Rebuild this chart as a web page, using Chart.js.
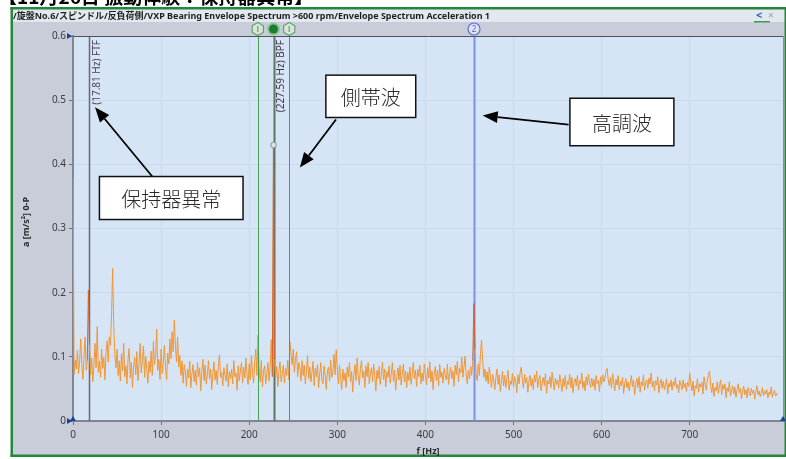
<!DOCTYPE html>
<html>
<head>
<meta charset="utf-8">
<script src="https://cdn.jsdelivr.net/npm/chart.js@4.4.1/dist/chart.umd.min.js"></script>
<style>
  html, body { margin: 0; padding: 0; background: #ffffff; }
  canvas { display: block; }
</style>
</head>
<body>
<canvas id="spectrum" width="786" height="459"></canvas>
<script>
// ---- Envelope spectrum data (acceleration, m/s² 0-P) ----
const BIN_WIDTH_HZ = 1.25;   // FFT line spacing, bin 0 = 0 Hz

// one row = 10 Hz (8 bins)
const amplitude = [
  0.380, 0.072, 0.095, 0.081, 0.110, 0.074, 0.092, 0.128,
  0.088, 0.065, 0.102, 0.131, 0.079, 0.094, 0.204, 0.118,
  0.072, 0.098, 0.061, 0.087, 0.121, 0.083, 0.147, 0.076,
  0.093, 0.068, 0.112, 0.082, 0.099, 0.064, 0.107, 0.125,
  0.092, 0.131, 0.118, 0.165, 0.238, 0.149, 0.104, 0.083,
  0.112, 0.071, 0.094, 0.062, 0.105, 0.078, 0.121, 0.069,
  0.086, 0.058, 0.097, 0.113, 0.067, 0.091, 0.052, 0.084,
  0.099, 0.072, 0.108, 0.063, 0.088, 0.121, 0.075, 0.094,
  0.117, 0.068, 0.101, 0.082, 0.059, 0.093, 0.076, 0.109,
  0.071, 0.124, 0.088, 0.102, 0.143, 0.079, 0.096, 0.065,
  0.112, 0.074, 0.092, 0.118, 0.083, 0.064, 0.106, 0.089,
  0.128, 0.097, 0.139, 0.108, 0.157, 0.118, 0.092, 0.131,
  0.084, 0.102, 0.071, 0.094, 0.059, 0.088, 0.076, 0.054,
  0.081, 0.067, 0.093, 0.052, 0.074, 0.088, 0.061, 0.079,
  0.056, 0.091, 0.069, 0.083, 0.047, 0.077, 0.096, 0.063,
  0.087, 0.058, 0.072, 0.094, 0.066, 0.081, 0.049, 0.075,
  0.092, 0.064, 0.079, 0.057, 0.085, 0.103, 0.068, 0.076,
  0.055, 0.083, 0.071, 0.062, 0.089, 0.053, 0.077, 0.066,
  0.081, 0.058, 0.094, 0.069, 0.075, 0.048, 0.086, 0.063,
  0.078, 0.091, 0.059, 0.084, 0.067, 0.098, 0.072, 0.057,
  0.089, 0.064, 0.102, 0.076, 0.059, 0.093, 0.112, 0.071,
  0.134, 0.082, 0.061, 0.094, 0.053, 0.078, 0.086, 0.058,
  0.074, 0.091, 0.062, 0.083, 0.127, 0.069, 0.430, 0.096,
  0.068, 0.085, 0.054, 0.079, 0.092, 0.061, 0.073, 0.087,
  0.059, 0.082, 0.071, 0.095, 0.064, 0.123, 0.104, 0.088,
  0.112, 0.076, 0.097, 0.108, 0.069, 0.091, 0.083, 0.062,
  0.094, 0.071, 0.087, 0.058, 0.079, 0.102, 0.066, 0.084,
  0.061, 0.076, 0.093, 0.055, 0.082, 0.069, 0.088, 0.052,
  0.073, 0.091, 0.064, 0.058, 0.086, 0.071, 0.049, 0.078,
  0.084, 0.062, 0.095, 0.068, 0.076, 0.104, 0.072, 0.111,
  0.079, 0.058, 0.087, 0.066, 0.049, 0.081, 0.063, 0.075,
  0.052, 0.084, 0.069, 0.091, 0.061, 0.077, 0.045, 0.072,
  0.088, 0.063, 0.098, 0.071, 0.056, 0.082, 0.094, 0.067,
  0.078, 0.052, 0.086, 0.069, 0.091, 0.058, 0.074, 0.083,
  0.061, 0.089, 0.071, 0.047, 0.079, 0.066, 0.085, 0.057,
  0.073, 0.092, 0.064, 0.081, 0.053, 0.077, 0.068, 0.086,
  0.059, 0.074, 0.091, 0.062, 0.079, 0.048, 0.069, 0.083,
  0.064, 0.087, 0.056, 0.073, 0.089, 0.061, 0.078, 0.052,
  0.076, 0.063, 0.084, 0.057, 0.072, 0.091, 0.066, 0.079,
  0.054, 0.081, 0.069, 0.087, 0.058, 0.075, 0.062, 0.089,
  0.071, 0.056, 0.083, 0.067, 0.092, 0.061, 0.078, 0.049,
  0.074, 0.085, 0.063, 0.079, 0.055, 0.088, 0.068, 0.076,
  0.059, 0.082, 0.071, 0.064, 0.089, 0.057, 0.073, 0.084,
  0.066, 0.078, 0.054, 0.087, 0.072, 0.093, 0.061, 0.082,
  0.075, 0.100, 0.068, 0.084, 0.101, 0.072, 0.058, 0.079,
  0.066, 0.085, 0.071, 0.094, 0.183, 0.112, 0.074, 0.063,
  0.089, 0.071, 0.105, 0.126, 0.093, 0.068, 0.081, 0.062,
  0.077, 0.058, 0.084, 0.069, 0.052, 0.073, 0.064, 0.049,
  0.068, 0.081, 0.057, 0.072, 0.046, 0.063, 0.078, 0.055,
  0.071, 0.052, 0.066, 0.079, 0.048, 0.062, 0.057, 0.074,
  0.053, 0.069, 0.061, 0.044, 0.072, 0.058, 0.076, 0.084,
  0.065, 0.051, 0.073, 0.059, 0.068, 0.045, 0.062, 0.071,
  0.054, 0.066, 0.049, 0.072, 0.061, 0.078, 0.052, 0.064,
  0.071, 0.047, 0.059, 0.068, 0.055, 0.074, 0.043, 0.063,
  0.058, 0.069, 0.052, 0.076, 0.061, 0.048, 0.067, 0.057,
  0.064, 0.051, 0.072, 0.059, 0.046, 0.066, 0.054, 0.071,
  0.049, 0.062, 0.057, 0.073, 0.052, 0.068, 0.044, 0.061,
  0.066, 0.055, 0.071, 0.048, 0.063, 0.058, 0.075, 0.051,
  0.062, 0.047, 0.069, 0.056, 0.073, 0.061, 0.052, 0.067,
  0.054, 0.065, 0.048, 0.071, 0.058, 0.063, 0.046, 0.069,
  0.057, 0.072, 0.061, 0.066, 0.078, 0.082, 0.064, 0.055,
  0.068, 0.051, 0.074, 0.059, 0.047, 0.065, 0.056, 0.071,
  0.049, 0.062, 0.055, 0.068, 0.043, 0.059, 0.066, 0.052,
  0.061, 0.047, 0.058, 0.071, 0.053, 0.064, 0.041, 0.057,
  0.066, 0.052, 0.069, 0.045, 0.061, 0.055, 0.072, 0.048,
  0.059, 0.064, 0.051, 0.067, 0.058, 0.075, 0.053, 0.062,
  0.047, 0.063, 0.056, 0.069, 0.044, 0.058, 0.065, 0.051,
  0.062, 0.049, 0.057, 0.066, 0.042, 0.059, 0.053, 0.064,
  0.048, 0.061, 0.055, 0.068, 0.051, 0.057, 0.044, 0.063,
  0.056, 0.049, 0.064, 0.052, 0.059, 0.046, 0.061, 0.054,
  0.075, 0.058, 0.047, 0.062, 0.039, 0.055, 0.051, 0.066,
  0.045, 0.058, 0.053, 0.061, 0.042, 0.069, 0.057, 0.048,
  0.064, 0.071, 0.078, 0.056, 0.044, 0.059, 0.038, 0.052,
  0.047, 0.061, 0.043, 0.055, 0.064, 0.041, 0.057, 0.049,
  0.058, 0.036, 0.052, 0.046, 0.061, 0.039, 0.048, 0.055,
  0.042, 0.053, 0.037, 0.049, 0.058, 0.044, 0.051, 0.035,
  0.047, 0.054, 0.041, 0.049, 0.036, 0.052, 0.045, 0.039,
  0.051, 0.043, 0.048, 0.034, 0.046, 0.055, 0.041, 0.047,
  0.038, 0.044, 0.052, 0.039, 0.047, 0.042, 0.049, 0.036,
  0.045, 0.041, 0.053, 0.037, 0.044, 0.048, 0.039, 0.043,
  0.041
];

const X_TICKS = [0, 100, 200, 300, 400, 500, 600, 700];
const Y_TICKS = [0, 0.1, 0.2, 0.3, 0.4, 0.5, 0.6];

// bearing defect frequencies
const FTF_HZ = 17.81;
const BPF_HZ = 227.59;
const SIDEBAND_HZ = [BPF_HZ - FTF_HZ, BPF_HZ + FTF_HZ];
const HARMONIC_HZ = 2 * BPF_HZ;

const markerLabels = ['(17.81 Hz) FTF', '(227.59 Hz) BPF'];
const calloutTexts = ['保持器異常', '側帯波', '高調波'];
const headerText = '/旋盤No.6/スピンドル/反負荷側/VXP Bearing Envelope Spectrum >600 rpm/Envelope Spectrum Acceleration 1';
const pageTitle = '【11月26日 振動体験：保持器異常】';

// ---- build the point list ----
const points = amplitude.map((a, i) => ({ x: i * BIN_WIDTH_HZ, y: a }));

const PEAK_HZ = [FTF_HZ, BPF_HZ, HARMONIC_HZ];
function nearPeak(f) {
  return PEAK_HZ.some(p => Math.abs(f - p) < 0.9);
}

const CJK = '"Noto Sans CJK JP", "Noto Sans", sans-serif';
const UI = '"Noto Sans", "Noto Sans CJK JP", sans-serif';

function arrow(ctx, x1, y1, x2, y2) {
  const ang = Math.atan2(y2 - y1, x2 - x1);
  const head = 15, half = 6;
  const bx = x2 - head * Math.cos(ang), by = y2 - head * Math.sin(ang);
  ctx.strokeStyle = '#000';
  ctx.lineWidth = 1.8;
  ctx.beginPath();
  ctx.moveTo(x1, y1);
  ctx.lineTo(bx, by);
  ctx.stroke();
  ctx.fillStyle = '#000';
  ctx.beginPath();
  ctx.moveTo(x2, y2);
  ctx.lineTo(bx + half * Math.sin(ang), by - half * Math.cos(ang));
  ctx.lineTo(bx - half * Math.sin(ang), by + half * Math.cos(ang));
  ctx.closePath();
  ctx.fill();
}

function hexagon(ctx, cx, cy, r) {
  ctx.beginPath();
  for (let k = 0; k < 6; k++) {
    const a = Math.PI / 6 + k * Math.PI / 3;
    const px = cx + r * Math.cos(a), py = cy + r * Math.sin(a);
    k ? ctx.lineTo(px, py) : ctx.moveTo(px, py);
  }
  ctx.closePath();
}

const framePlugin = {
  id: 'frame',
  beforeDraw(chart) {
    const { ctx, chartArea: ca } = chart;
    ctx.save();
    ctx.fillStyle = '#ffffff';
    ctx.fillRect(0, 0, chart.width, chart.height);
    // panel
    ctx.fillStyle = '#c9cdd9';
    ctx.fillRect(13, 9, 772, 446);
    // header strip
    ctx.fillStyle = '#e3e8f0';
    ctx.fillRect(13, 9, 772, 13);
    // green frame
    ctx.fillStyle = '#23883a';
    ctx.fillRect(10.5, 7, 775.5, 2.5);
    ctx.fillRect(10.5, 454.5, 775.5, 2.5);
    ctx.fillRect(10.5, 7, 2.5, 450);
    ctx.fillRect(784.5, 7, 1.5, 450);
    // plot background
    ctx.fillStyle = '#d6e5f5';
    ctx.fillRect(ca.left, ca.top, ca.right - ca.left, ca.bottom - ca.top);
    ctx.restore();
  },
  beforeDatasetsDraw(chart) {
    const { ctx, chartArea: ca, scales: { x, y } } = chart;
    ctx.save();
    // FTF cursor
    let px = Math.round(x.getPixelForValue(FTF_HZ)) + 0.5;
    ctx.strokeStyle = '#6d6679';
    ctx.lineWidth = 1.5;
    ctx.beginPath(); ctx.moveTo(px, ca.top); ctx.lineTo(px, ca.bottom); ctx.stroke();
    // BPF cursor
    px = Math.round(x.getPixelForValue(BPF_HZ)) + 0.5;
    ctx.strokeStyle = '#5f7563';
    ctx.lineWidth = 2;
    ctx.beginPath(); ctx.moveTo(px, ca.top); ctx.lineTo(px, ca.bottom); ctx.stroke();
    // harmonic cursor
    px = Math.round(x.getPixelForValue(HARMONIC_HZ)) + 0.5;
    ctx.strokeStyle = '#7f8fe2';
    ctx.lineWidth = 2;
    ctx.beginPath(); ctx.moveTo(px, ca.top); ctx.lineTo(px, ca.bottom); ctx.stroke();
    ctx.restore();
  },
  afterDatasetsDraw(chart) {
    const { ctx, chartArea: ca, scales: { x, y } } = chart;
    ctx.save();
    // sideband cursors
    ctx.strokeStyle = '#47a055';
    ctx.lineWidth = 1;
    SIDEBAND_HZ.forEach(f => {
      const px = Math.round(x.getPixelForValue(f)) + 0.5;
      ctx.beginPath(); ctx.moveTo(px, ca.top); ctx.lineTo(px, ca.bottom); ctx.stroke();
    });

    // BPF cursor readout point
    const bpfBin = Math.round(BPF_HZ / BIN_WIDTH_HZ);
    const bx = x.getPixelForValue(BPF_HZ), by = y.getPixelForValue(amplitude[bpfBin]);
    ctx.strokeStyle = '#7f9a80';
    ctx.lineWidth = 1;
    ctx.fillStyle = '#d6e5f5';
    ctx.beginPath(); ctx.arc(bx, by, 2.8, 0, Math.PI * 2); ctx.fill(); ctx.stroke();

    // cursor labels (vertical)
    ctx.font = '10px ' + UI;
    ctx.textAlign = 'right';
    ctx.textBaseline = 'middle';
    [[FTF_HZ, markerLabels[0], '#4c3f55'], [BPF_HZ, markerLabels[1], '#3f3444']].forEach(([f, t, c]) => {
      ctx.save();
      ctx.translate(x.getPixelForValue(f) + 8, ca.top + 4);
      ctx.rotate(-Math.PI / 2);
      ctx.fillStyle = c;
      ctx.fillText(t, 0, 0);
      ctx.restore();
    });

    // plot frame top / right
    ctx.strokeStyle = '#4e525b';
    ctx.lineWidth = 1;
    ctx.beginPath(); ctx.moveTo(ca.left, ca.top + 0.5); ctx.lineTo(ca.right, ca.top + 0.5); ctx.stroke();
    ctx.strokeStyle = '#8a8f99';
    ctx.beginPath(); ctx.moveTo(ca.right - 0.5, ca.top); ctx.lineTo(ca.right - 0.5, ca.bottom); ctx.stroke();

    // cursor handles in the strip above the plot
    const hy = 29;
    ctx.lineWidth = 1.2;
    SIDEBAND_HZ.forEach(f => {
      const hx = x.getPixelForValue(f);
      ctx.fillStyle = '#d9e4dc';
      ctx.strokeStyle = '#5aa764';
      hexagon(ctx, hx, hy, 6.5); ctx.fill(); ctx.stroke();
      ctx.beginPath(); ctx.moveTo(hx, hy - 3); ctx.lineTo(hx, hy + 3); ctx.stroke();
    });
    let hx = x.getPixelForValue(BPF_HZ);
    ctx.fillStyle = '#86c98b';
    ctx.beginPath(); ctx.arc(hx, hy, 6.5, 0, Math.PI * 2); ctx.fill();
    ctx.fillStyle = '#1f7a32';
    ctx.beginPath(); ctx.arc(hx, hy, 4.5, 0, Math.PI * 2); ctx.fill();
    hx = x.getPixelForValue(HARMONIC_HZ);
    ctx.fillStyle = '#dfe3f3';
    ctx.strokeStyle = '#6272d4';
    ctx.beginPath(); ctx.arc(hx, hy, 6, 0, Math.PI * 2); ctx.fill(); ctx.stroke();
    ctx.fillStyle = '#5060c8';
    ctx.font = '8px ' + UI;
    ctx.textAlign = 'center';
    ctx.textBaseline = 'middle';
    ctx.fillText('2', hx, hy + 0.5);

    // axis range markers
    ctx.fillStyle = '#1d3f9e';
    [ca.top, ca.bottom].forEach(py => {
      ctx.beginPath(); ctx.moveTo(ca.left - 6, py - 3); ctx.lineTo(ca.left - 1, py); ctx.lineTo(ca.left - 6, py + 3); ctx.closePath(); ctx.fill();
    });
    [ca.left, ca.right - 1].forEach(px => {
      ctx.beginPath(); ctx.moveTo(px - 3, ca.bottom); ctx.lineTo(px, ca.bottom - 5); ctx.lineTo(px + 3, ca.bottom); ctx.closePath(); ctx.fill();
    });

    // axis titles
    ctx.fillStyle = '#2b2b2b';
    ctx.font = 'bold 9px ' + UI;
    ctx.textAlign = 'center';
    ctx.textBaseline = 'middle';
    ctx.fillText('f [Hz]', 428, 451);
    ctx.save();
    ctx.translate(26, 222);
    ctx.rotate(-Math.PI / 2);
    ctx.fillText('a [m/s²] 0-P', 0, 0);
    ctx.restore();

    // header
    ctx.font = 'bold 9px ' + UI;
    ctx.textAlign = 'left';
    ctx.textBaseline = 'alphabetic';
    const w = ctx.measureText(headerText).width;
    ctx.save();
    ctx.translate(13, 19);
    ctx.scale(477 / w, 1);
    ctx.fillStyle = '#1e1e1e';
    ctx.fillText(headerText, 0, 0);
    ctx.restore();
    ctx.fillStyle = '#2d5bd0';
    ctx.font = 'bold 11px ' + UI;
    ctx.fillText('<', 756, 19);
    ctx.fillStyle = '#9aa0aa';
    ctx.font = '10px ' + UI;
    ctx.fillText('×', 768, 19);
    ctx.fillStyle = '#3b9a4c';
    ctx.fillRect(754, 21, 16, 1.5);

    // page heading (scrolled past, only its lower edge remains)
    ctx.save();
    ctx.beginPath(); ctx.rect(0, 0, 786, 7); ctx.clip();
    ctx.fillStyle = '#000';
    ctx.font = 'bold 19px ' + CJK;
    ctx.fillText(pageTitle, -2, 4);
    ctx.restore();

    // callouts: box in data units, arrow from tail to tip
    const callouts = [
      { box: [30, 193, 0.381, 0.314], tail: [90, 0.381], tip: [25, 0.489] },
      { box: [287, 389, 0.539, 0.473], tail: [298.5, 0.470], tip: [257.5, 0.395] },
      { box: [564, 682, 0.503, 0.429], tail: [562.5, 0.462], tip: [465, 0.476] }
    ];
    callouts.forEach((c, i) => {
      const x0 = x.getPixelForValue(c.box[0]), x1 = x.getPixelForValue(c.box[1]);
      const y0 = y.getPixelForValue(c.box[2]), y1 = y.getPixelForValue(c.box[3]);
      arrow(ctx, x.getPixelForValue(c.tail[0]), y.getPixelForValue(c.tail[1]),
                 x.getPixelForValue(c.tip[0]), y.getPixelForValue(c.tip[1]));
      ctx.fillStyle = '#ffffff';
      ctx.fillRect(x0, y0, x1 - x0, y1 - y0);
      ctx.strokeStyle = '#111';
      ctx.lineWidth = 1.5;
      ctx.strokeRect(x0, y0, x1 - x0, y1 - y0);
      ctx.fillStyle = '#2a2a2a';
      ctx.font = '300 20px ' + CJK;
      ctx.textAlign = 'center';
      ctx.textBaseline = 'middle';
      ctx.fillText(calloutTexts[i], (x0 + x1) / 2, (y0 + y1) / 2 + 1);
    });
    ctx.restore();
  }
};

new Chart(document.getElementById('spectrum'), {
  type: 'line',
  data: {
    datasets: [{
      data: points,
      parsing: false,
      borderColor: '#f29634',
      borderWidth: 1,
      pointRadius: 0,
      tension: 0,
      segment: {
        borderColor: c => (nearPeak(c.p0.parsed.x) || nearPeak(c.p1.parsed.x)) ? '#d1622a' : undefined
      }
    }]
  },
  options: {
    responsive: false,
    animation: false,
    layout: { padding: { left: 14, top: 36, right: 2, bottom: 3 } },
    plugins: { legend: { display: false }, tooltip: { enabled: false } },
    scales: {
      x: {
        type: 'linear',
        min: 0,
        max: 807,
        afterFit: s => { s.height = 35; },
        afterBuildTicks: s => { s.ticks = X_TICKS.map(v => ({ value: v })); },
        ticks: { color: '#3c3c3c', font: { family: UI, size: 10 }, padding: 4, maxRotation: 0,
                 callback: v => String(v) },
        grid: { color: '#cad9eb', tickColor: '#6a6e76', tickLength: 4, drawTicks: true },
        border: { color: '#80858f', width: 2 }
      },
      y: {
        min: 0,
        max: 0.6,
        afterFit: s => { s.width = 59; },
        afterBuildTicks: s => { s.ticks = Y_TICKS.map(v => ({ value: v })); },
        ticks: { color: '#3c3c3c', font: { family: UI, size: 10 }, padding: 3,
                 callback: v => v === 0 ? '0' : v.toFixed(1) },
        grid: { color: '#cad9eb', tickColor: '#6a6e76', tickLength: 4, drawTicks: true },
        border: { color: '#80858f', width: 2 }
      }
    }
  },
  plugins: [framePlugin]
});
</script>
</body>
</html>
